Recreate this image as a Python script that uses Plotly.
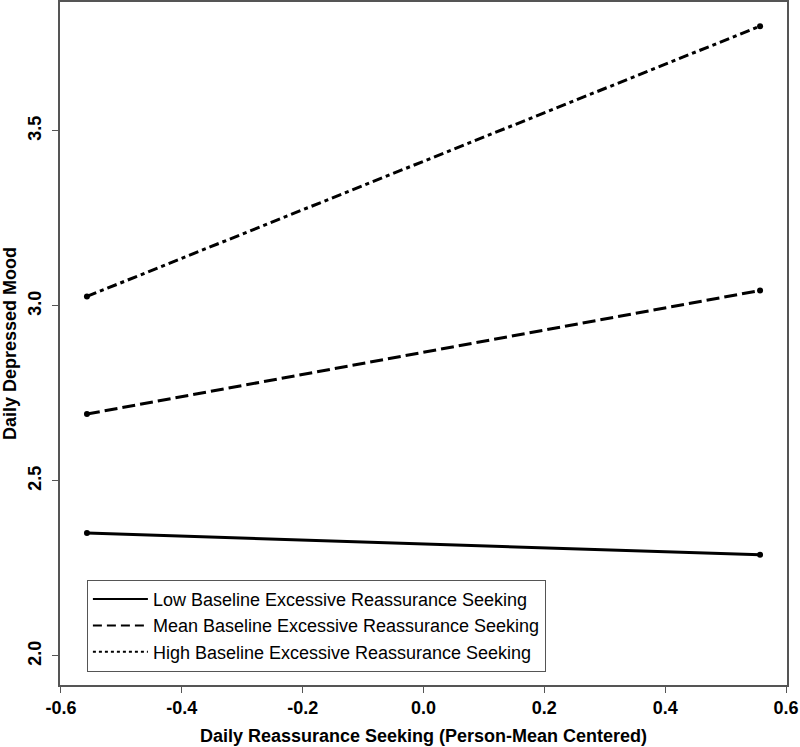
import plotly.graph_objects as go

# person-mean centered daily reassurance seeking (end points)
x_vals = [-0.557, 0.557]
low_mood = [2.351, 2.289]
mean_mood = [2.691, 3.044]
high_mood = [3.027, 3.799]

legend_names = [
    "Low Baseline Excessive Reassurance Seeking",
    "Mean Baseline Excessive Reassurance Seeking",
    "High Baseline Excessive Reassurance Seeking",
]
x_ticks = [-0.6, -0.4, -0.2, 0.0, 0.2, 0.4, 0.6]
y_ticks = [2.0, 2.5, 3.0, 3.5]

font = "Liberation Sans, Arial, Helvetica, sans-serif"

fig = go.Figure()

# plotted lines (legend drawn separately, like R's legend())
for y, dash in [(low_mood, "solid"), (mean_mood, "13px,5px"),
                (high_mood, "10px,4px,4px,4px")]:
    fig.add_trace(go.Scatter(
        x=x_vals, y=y, mode="lines+markers",
        line=dict(color="black", width=3, dash=dash),
        marker=dict(color="black", size=6),
        showlegend=False, hoverinfo="skip",
    ))

for name, dash in zip(legend_names, ["solid", "9px,5px", "3px,3px"]):
    fig.add_trace(go.Scatter(
        x=[None], y=[None], mode="lines", name=name,
        line=dict(color="black", width=2, dash=dash),
    ))

axis_common = dict(
    showgrid=False, zeroline=False,
    showline=True, mirror=True, linecolor="#555", linewidth=1.5,
    ticks="outside", ticklen=6, tickcolor="#555", tickwidth=1,
    tickfont=dict(family=font, size=18, color="black", weight="bold"),
    title_font=dict(family=font, size=18, color="black", weight="bold"),
)

fig.update_xaxes(
    range=[-0.6016, 0.6016], tickvals=x_ticks,
    ticktext=[f"{v:.1f}" for v in x_ticks],
    title_text="Daily Reassurance Seeking (Person-Mean Centered)",
    title_standoff=12, ticklabelstandoff=0,
    **axis_common,
)
fig.update_yaxes(
    range=[1.917, 3.868], tickvals=y_ticks,
    ticktext=[f"{v:.1f}" for v in y_ticks], tickangle=-90,
    title_text="Daily Depressed Mood",
    title_standoff=8, ticklabelstandoff=4,
    **axis_common,
)

fig.update_layout(
    width=800, height=747,
    margin=dict(l=60, r=13, t=2, b=62, autoexpand=False),
    plot_bgcolor="white", paper_bgcolor="white",
    legend=dict(
        x=0.037, y=0.154, xanchor="left", yanchor="top",
        bordercolor="#555", borderwidth=1, bgcolor="white",
        font=dict(family=font, size=18, color="black"),
        tracegroupgap=0, itemwidth=55,
    ),
)

fig.write_html("out.html", config={"displayModeBar": False},
               post_script="document.body.style.margin='0';")
